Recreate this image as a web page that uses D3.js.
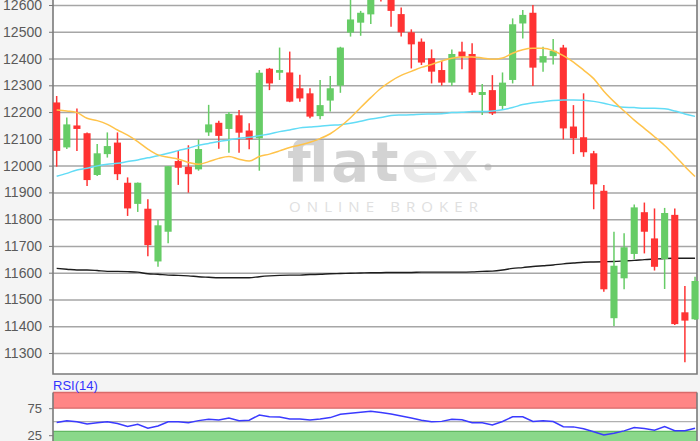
<!DOCTYPE html>
<html>
<head>
<meta charset="utf-8">
<script src="https://cdn.jsdelivr.net/npm/d3@7"></script>
<style>
  html, body { margin: 0; padding: 0; background: #f4f4f4; }
  svg { display: block; font-family: "Liberation Sans", Arial, sans-serif; }
</style>
</head>
<body>
<div id="wrapper"></div>
<script>
// 1. Access data

const opens = [12236, 12068, 12150, 12121, 11965, 12043, 12086, 11936, 11857, 11839,
    11642, 11753, 12017, 11996, 11986, 12124, 12160, 12137, 12188, 12131,
    12102, 12362, 12347, 12348, 12289, 12270, 12185, 12243, 12299, 12497,
    12534, 12565, 12670, 12630, 12566, 12498, 12463, 12401, 12357, 12310,
    12426, 12417, 12264, 12282, 12223, 12320, 12531, 12571, 12385, 12409,
    12441, 12146, 12106, 12046, 11906, 11430, 11579, 11670, 11826, 11728,
    11651, 11816, 11452, 11426]
const highs = [12260, 12180, 12213, 12124, 12081, 12124, 12124, 11956, 11937, 11874,
    11797, 11999, 12055, 12076, 12098, 12227, 12168, 12200, 12208, 12158,
    12357, 12365, 12441, 12426, 12339, 12289, 12320, 12335, 12444, 12625,
    12578, 12660, 12690, 12650, 12591, 12509, 12475, 12434, 12391, 12434,
    12463, 12457, 12305, 12338, 12348, 12550, 12581, 12600, 12444, 12473,
    12451, 12226, 12270, 12055, 11928, 11753, 11747, 11855, 11862, 11840,
    11842, 11840, 11550, 11585]
const lows = [11996, 12062, 12055, 11924, 11961, 12030, 11946, 11812, 11827, 11661,
    11622, 11710, 11928, 11899, 11981, 12111, 12063, 12048, 12048, 12061,
    11981, 12282, 12320, 12237, 12239, 12177, 12173, 12202, 12272, 12482,
    12485, 12529, 12613, 12519, 12482, 12363, 12376, 12307, 12299, 12297,
    12360, 12264, 12189, 12189, 12208, 12307, 12475, 12297, 12351, 12378,
    12098, 12043, 12033, 11837, 11529, 11401, 11538, 11650, 11672, 11608,
    11539, 11405, 11265, 11423]
const closes = [12055, 12154, 12137, 11946, 12046, 12073, 11968, 11840, 11936, 11703,
    11777, 11998, 11992, 11968, 12062, 12154, 12111, 12193, 12123, 12098,
    12347, 12307, 12357, 12239, 12251, 12183, 12226, 12289, 12441, 12546,
    12571, 12635, 12630, 12578, 12498, 12453, 12385, 12351, 12310, 12417,
    12407, 12273, 12275, 12195, 12310, 12528, 12563, 12366, 12409, 12429,
    12139, 12102, 12050, 11930, 11538, 11626, 11695, 11844, 11753, 11622,
    11823, 11408, 11421, 11569]

// moving averages as plotted (20, 50 and 200 days)
const ma20 = [12208, 12204, 12198, 12177, 12168, 12154, 12133, 12114, 12090, 12062,
    12040, 12031, 12024, 12012, 12005, 12015, 12027, 12034, 12024, 12017,
    12034, 12043, 12055, 12068, 12077, 12087, 12101, 12119, 12146, 12179,
    12217, 12254, 12289, 12316, 12337, 12352, 12367, 12378, 12391, 12401,
    12406, 12406, 12402, 12397, 12402, 12420, 12433, 12438, 12438, 12429,
    12411, 12387, 12357, 12325, 12278, 12239, 12204, 12170, 12139, 12108,
    12075, 12037, 11997, 11959]
const ma50 = [11960, 11971, 11984, 11990, 11999, 12005, 12009, 12015, 12021, 12029,
    12037, 12046, 12056, 12065, 12076, 12083, 12090, 12096, 12102, 12106,
    12112, 12118, 12127, 12133, 12141, 12144, 12147, 12151, 12153, 12158,
    12166, 12174, 12180, 12187, 12189, 12190, 12192, 12193, 12194, 12198,
    12199, 12202, 12202, 12204, 12209, 12217, 12228, 12235, 12239, 12243,
    12245, 12245, 12244, 12240, 12233, 12224, 12218, 12217, 12214, 12214,
    12212, 12204, 12193, 12184]
const ma200 = [11616, 11613, 11610, 11610, 11608, 11605, 11605, 11604, 11602, 11596,
    11594, 11591, 11590, 11588, 11585, 11583, 11581, 11581, 11581, 11581,
    11585, 11588, 11590, 11591, 11591, 11593, 11594, 11596, 11597, 11598,
    11599, 11600, 11600, 11601, 11601, 11601, 11602, 11602, 11602, 11602,
    11602, 11603, 11605, 11606, 11610, 11616, 11619, 11623, 11626, 11629,
    11633, 11636, 11639, 11640, 11641, 11642, 11644, 11646, 11649, 11651,
    11653, 11654, 11654, 11654]
const rsi = [48.5, 51.9, 50, 45.7, 48.1, 50, 46.7, 41.1, 45.4, 38,
    42, 50, 49.8, 48.1, 52, 54.6, 53.1, 56.9, 51.9, 52.8,
    62.4, 59.3, 58.9, 55, 55, 53.1, 55, 57.6, 63.7, 65.6,
    67.4, 69.3, 67, 64.3, 60.6, 56.9, 52.8, 50, 50.6, 54.4,
    53.5, 48.1, 48.1, 43.9, 50.4, 59.1, 59.1, 50.4, 51.9, 50.4,
    40.7, 40.4, 36.9, 31.3, 25.4, 28.5, 33, 39.4, 37.4, 34.3,
    40.9, 33.3, 33.3, 37.8]

const yTicks = [12600, 12500, 12400, 12300, 12200, 12100, 12000,
    11900, 11800, 11700, 11600, 11500, 11400, 11300]
const rsiTicks = [75, 25]
const rsiMid = 50
const rsiOverbought = 75
const rsiOversold = 32

const dataset = opens.map((o, i) => ({
    i: i,
    open: o,
    high: highs[i],
    low: lows[i],
    close: closes[i],
}))

// 2. Create chart dimensions
let dimensions = {
    width: 700,
    height: 441,
    left: 53,
    right: 697,
    priceTop: -2,
    priceBottom: 374,
    rsiTop: 392.5,
}
dimensions.plotWidth = dimensions.right - dimensions.left

// 3. Draw canvas
const wrapper = d3.select("#wrapper")
    .append("svg")
    .attr("width", dimensions.width)
    .attr("height", dimensions.height)

wrapper.append("rect")
    .attr("width", dimensions.width)
    .attr("height", dimensions.height)
    .attr("fill", "#f4f4f4")

wrapper.append("rect")
    .attr("x", dimensions.left)
    .attr("y", dimensions.priceTop)
    .attr("width", dimensions.plotWidth)
    .attr("height", dimensions.priceBottom - dimensions.priceTop)
    .attr("fill", "#ffffff")

wrapper.append("rect")
    .attr("x", dimensions.left)
    .attr("y", dimensions.rsiTop)
    .attr("width", dimensions.plotWidth)
    .attr("height", dimensions.height - dimensions.rsiTop + 5)
    .attr("fill", "#ffffff")

// 4. Create scales
const xScale = d3.scaleBand()
    .domain(dataset.map(d => d.i))
    .range([51.6, 700.1])
    .paddingInner(0.3)
    .paddingOuter(0.15)
const xCenter = i => xScale(i) + xScale.bandwidth() / 2

const yScale = d3.scaleLinear()
    .domain([11300, 12600])
    .range([353, 5])

const rsiScale = d3.scaleLinear()
    .domain([25, 75])
    .range([435.2, 408.2])

// watermark
const mark = wrapper.append("g")
const logo = mark.append("text")
    .attr("x", 287)
    .attr("y", 181)
    .attr("textLength", 191)
    .attr("lengthAdjust", "spacing")
    .style("font-family", "'DejaVu Sans', sans-serif")
    .style("font-weight", 600)
    .style("font-size", "56px")
logo.append("tspan").attr("fill", "#d3d3d3").text("flat")
logo.append("tspan").attr("fill", "#e9e9e9").text("ex")
mark.append("circle")
    .attr("cx", 488)
    .attr("cy", 167)
    .attr("r", 3.5)
    .attr("fill", "#d8d8d8")
mark.append("text")
    .attr("x", 289)
    .attr("y", 212)
    .attr("textLength", 189)
    .attr("lengthAdjust", "spacing")
    .attr("fill", "#e0e0e0")
    .style("font-family", "'Open Sans', sans-serif")
    .style("font-size", "15px")
    .text("ONLINE BROKER")

// 5. Draw peripherals (grid and axes)
const grid = wrapper.append("g")
    .attr("transform", `translate(${dimensions.left}, 0)`)
    .call(d3.axisLeft(yScale)
        .tickValues(yTicks)
        .tickSize(-dimensions.plotWidth)
        .tickFormat(""))
grid.select(".domain").remove()
grid.selectAll("line")
    .attr("stroke", "#a6a6a6")
    .attr("stroke-width", 1.5)

const yAxis = wrapper.append("g")
    .attr("transform", `translate(${dimensions.left}, 0)`)
    .call(d3.axisLeft(yScale)
        .tickValues(yTicks)
        .tickSize(4)
        .tickPadding(7)
        .tickFormat(d3.format("d")))
yAxis.select(".domain").remove()
yAxis.selectAll("line").attr("stroke", "#777")
yAxis.selectAll("text")
    .attr("fill", "#5a5a5a")
    .style("font-size", "14px")

// plot frame
wrapper.append("path")
    .attr("d", `M${dimensions.left},${dimensions.priceTop}V${dimensions.priceBottom}H${dimensions.right}V${dimensions.priceTop}`)
    .attr("fill", "none")
    .attr("stroke", "#7a7a7a")
    .attr("stroke-width", 1.6)

// 6. Draw data
const clip = wrapper.append("clipPath")
    .attr("id", "price-clip")
    .append("rect")
    .attr("x", dimensions.left)
    .attr("y", dimensions.priceTop)
    .attr("width", dimensions.plotWidth + 3)
    .attr("height", dimensions.priceBottom - dimensions.priceTop)

const bounds = wrapper.append("g")
    .attr("clip-path", "url(#price-clip)")

const colorOf = d => d.close >= d.open ? "#66cc66" : "#ff3333"

const lineOf = values => d3.line()
    .x((v, i) => xCenter(i))
    .y(v => yScale(v))
    .curve(d3.curveMonotoneX)(values)

bounds.append("path")
    .attr("d", lineOf(ma200))
    .attr("fill", "none")
    .attr("stroke", "#1e1e1e")
    .attr("stroke-width", 1.4)

bounds.selectAll(".wick")
    .data(dataset)
    .enter()
    .append("line")
    .attr("class", "wick")
    .attr("x1", d => xCenter(d.i))
    .attr("x2", d => xCenter(d.i))
    .attr("y1", d => yScale(d.high))
    .attr("y2", d => yScale(d.low))
    .attr("stroke", colorOf)
    .attr("stroke-width", 1.5)

bounds.selectAll(".body")
    .data(dataset)
    .enter()
    .append("rect")
    .attr("class", "body")
    .attr("x", d => xScale(d.i))
    .attr("width", xScale.bandwidth())
    .attr("y", d => yScale(Math.max(d.open, d.close)))
    .attr("height", d => Math.max(1.5, Math.abs(yScale(d.open) - yScale(d.close))))
    .attr("fill", colorOf)

bounds.append("path")
    .attr("d", lineOf(ma50))
    .attr("fill", "none")
    .attr("stroke", "#62dcf6")
    .attr("stroke-width", 1.5)

bounds.append("path")
    .attr("d", lineOf(ma20))
    .attr("fill", "none")
    .attr("stroke", "#ffc34a")
    .attr("stroke-width", 1.5)

// RSI panel
const rsiPanel = wrapper.append("g")

rsiPanel.append("rect")
    .attr("x", dimensions.left)
    .attr("y", dimensions.rsiTop)
    .attr("width", dimensions.plotWidth)
    .attr("height", rsiScale(rsiOverbought) - dimensions.rsiTop)
    .attr("fill", "#ff8686")
rsiPanel.append("rect")
    .attr("x", dimensions.left)
    .attr("y", rsiScale(rsiOversold))
    .attr("width", dimensions.plotWidth)
    .attr("height", dimensions.height - rsiScale(rsiOversold) + 5)
    .attr("fill", "#8ad88a")

const hLine = (y, color) => rsiPanel.append("line")
    .attr("x1", dimensions.left)
    .attr("x2", dimensions.right)
    .attr("y1", y)
    .attr("y2", y)
    .attr("stroke", color)
    .attr("stroke-width", 1.3)
hLine(dimensions.rsiTop, "#d96a6a")
hLine(rsiScale(rsiOverbought), "#d96a6a")
hLine(rsiScale(rsiOversold), "#62b862")
hLine(rsiScale(rsiMid), "#b0b0b0")

rsiPanel.append("path")
    .attr("d", d3.line()
        .x((v, i) => xCenter(i))
        .y(v => rsiScale(v))(rsi))
    .attr("fill", "none")
    .attr("stroke", "#3a3aff")
    .attr("stroke-width", 1.5)

const rsiAxis = rsiPanel.append("g")
    .attr("transform", `translate(${dimensions.left}, 0)`)
    .call(d3.axisLeft(rsiScale)
        .tickValues(rsiTicks)
        .tickSize(4)
        .tickPadding(7))
rsiAxis.select(".domain").remove()
rsiAxis.selectAll("line").attr("stroke", "#777")
rsiAxis.selectAll("text")
    .attr("fill", "#5a5a5a")
    .style("font-size", "13px")

rsiPanel.append("path")
    .attr("d", `M${dimensions.left},${dimensions.rsiTop}V${dimensions.height + 2}M${dimensions.right},${dimensions.rsiTop}V${dimensions.height + 2}`)
    .attr("stroke", "#7a7a7a")
    .attr("stroke-width", 1.6)

rsiPanel.append("text")
    .attr("x", dimensions.left)
    .attr("y", 389.5)
    .attr("fill", "#3333ff")
    .style("font-size", "13px")
    .text("RSI(14)")
</script>
</body>
</html>
